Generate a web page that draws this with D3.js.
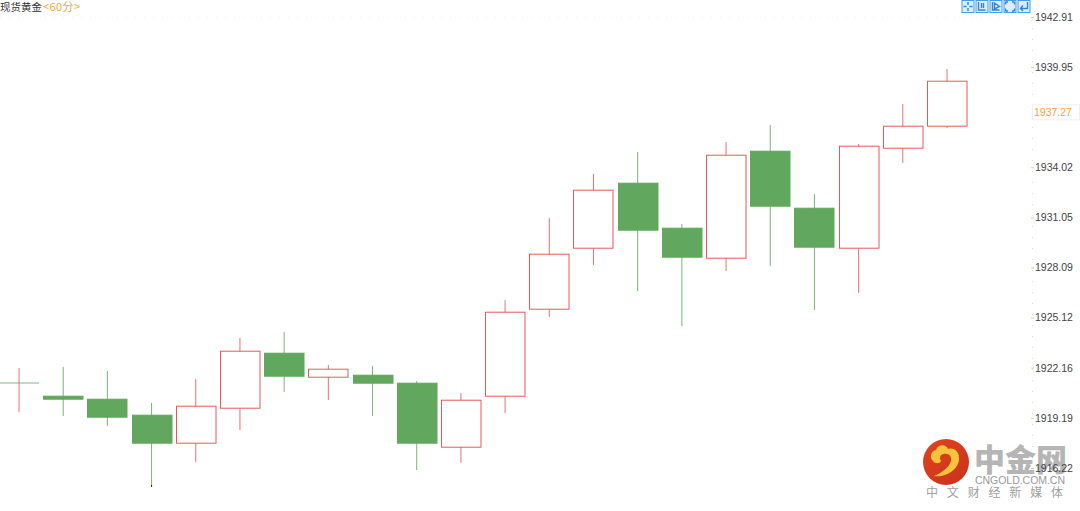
<!DOCTYPE html>
<html><head><meta charset="utf-8">
<style>html,body{margin:0;padding:0;background:#fff;overflow:hidden}svg{display:block}</style>
<script src="https://cdn.jsdelivr.net/npm/d3@7/dist/d3.min.js"></script></head>
<body><svg id="c" width="1080" height="511"></svg>
<script>
const titleName="现货黄金", titlePeriod="<60分>";
const tickValues=[1942.91,1939.95,1934.02,1931.05,1928.09,1925.12,1922.16,1919.19,1916.22];
const lastPrice=1937.27;
const openV =[1921.25,1920.48,1920.30,1919.36,1917.70,1919.77,1923.03,1921.61,1921.72,1921.25,1917.46,1920.48,1925.63,1929.24,1933.09,1930.42,1928.65,1934.98,1931.61,1929.24,1935.16,1936.46];
const closeV=[1921.25,1920.30,1919.24,1917.70,1919.89,1923.14,1921.66,1922.08,1921.25,1917.70,1920.24,1925.45,1928.88,1932.67,1930.30,1928.71,1934.74,1931.72,1929.30,1935.28,1936.46,1939.12];
const highV =[1922.14,1922.20,1921.96,1920.07,1921.49,1923.91,1924.27,1922.32,1922.26,1921.37,1920.66,1926.16,1931.01,1933.62,1934.92,1930.66,1935.51,1936.52,1932.44,1935.39,1937.76,1939.83];
const lowV  =[1919.53,1919.30,1918.71,1915.10,1916.57,1918.47,1920.72,1920.24,1919.30,1916.10,1916.52,1919.47,1925.16,1928.23,1926.69,1924.62,1927.88,1928.17,1925.57,1926.58,1934.27,1936.34];
const RED="#e5595b", GREEN="#62a75e", AX="#444";
const FF="'Liberation Sans',Arial,'Noto Sans CJK SC',sans-serif";
const svg=d3.select("#c");
const y=d3.scaleLinear().domain([1916.22,1942.91]).range([468,17]);
const x=d3.scalePoint().domain(d3.range(openV.length)).range([19,947]);
const bw=39.5;

// faint dotted guides
svg.append("line").attr("x1",0).attr("x2",1033).attr("y1",17.5).attr("y2",17.5).attr("stroke","#ececec").attr("stroke-dasharray","1 8");
svg.append("line").attr("x1",1032.5).attr("x2",1032.5).attr("y1",17).attr("y2",511).attr("stroke","#dcdcdc").attr("stroke-dasharray","1 10");

// candles
const g=svg.append("g");
const cs=g.selectAll("g").data(openV.map((o,i)=>({i,o,c:closeV[i],h:highV[i],l:lowV[i]}))).join("g");
const col=d=>d.c>=d.o?RED:GREEN;
cs.append("line").attr("x1",d=>x(d.i)).attr("x2",d=>x(d.i))
  .attr("y1",d=>y(d.h)).attr("y2",d=>y(d.l)).attr("stroke",col).attr("stroke-opacity",.85);
cs.filter(d=>d.i>0).append("rect")
  .attr("x",d=>Math.round(x(d.i))-19.5).attr("width",bw)
  .attr("y",d=>Math.round(y(Math.max(d.o,d.c)))+.2)
  .attr("height",d=>Math.max(2,Math.round(Math.abs(y(d.o)-y(d.c)))))
  .attr("fill",d=>d.c>=d.o?"#fff":GREEN).attr("stroke",col);
cs.filter(d=>d.i===0).append("line").attr("x1",d=>x(d.i)-19).attr("x2",d=>x(d.i)+20)
  .attr("y1",d=>y(d.c)).attr("y2",d=>y(d.c)).attr("stroke",GREEN).attr("stroke-opacity",.8);
// dark tip of the longest wick
g.append("line").attr("x1",x(3)).attr("x2",x(3)).attr("y1",y(lowV[3])-2).attr("y2",y(lowV[3])).attr("stroke","#222");

// watermark logo (below axis labels)
const logo=svg.append("g");
const defs=svg.append("defs");
const gr=defs.append("linearGradient").attr("id","lg").attr("x1",0).attr("y1",0).attr("x2",1).attr("y2",1);
gr.append("stop").attr("offset",0).attr("stop-color","#e0451f");
gr.append("stop").attr("offset",1).attr("stop-color","#c9301a");
logo.append("circle").attr("cx",946).attr("cy",462).attr("r",23).attr("fill","url(#lg)");
logo.append("path").attr("d","M934 476 C945 478 958 470 959 460 C960 452 954 447 948 449 C946 444 938 444 936 450 C931 451 929 457 933 461 C935 464 940 464 941 461 C939 458 940 454 944 454 C949 453 952 457 951 461 C949 468 941 473 934 476Z").attr("fill","#f6c33a");
logo.append("text").attr("x",974).attr("y",471).attr("font-family","'Noto Sans CJK SC'").attr("font-weight",900).attr("font-size",31).attr("textLength",93).attr("fill","#b5b5b5").text("中金网");
logo.append("text").attr("x",975).attr("y",484).attr("font-family",FF).attr("font-size",10.5).attr("textLength",90).attr("fill","#9a9a9a").text("CNGOLD.COM.CN");
logo.append("text").attr("x",926).attr("y",497).attr("font-family","'Noto Sans CJK SC'").attr("font-size",12).attr("textLength",137).attr("fill","#a0a0a0").text("中文财经新媒体");

// right axis labels
const ax=svg.append("g").attr("transform","translate(1033,0)")
  .call(d3.axisRight(y).tickValues(tickValues).tickSize(1).tickPadding(1).tickFormat(d3.format(".2f")));
ax.select(".domain").remove();
ax.selectAll("line").attr("x1",-2).attr("x2",1).attr("stroke","#ccc");
ax.selectAll("text").attr("font-family",FF).attr("font-size",10.5).attr("fill",AX);

// last price tag
const tag=svg.append("g");
tag.append("rect").attr("x",1032.5).attr("y",y(lastPrice)-7.5).attr("width",47).attr("height",15).attr("fill","#fff").attr("stroke","#f0f0f0");
tag.append("text").attr("x",1034).attr("y",y(lastPrice)+4).attr("font-family",FF).attr("font-size",10.5).attr("fill","#f5a33c").text(lastPrice.toFixed(2));

// title
const t=svg.append("text").attr("x",0).attr("y",11).attr("font-family","'Noto Sans CJK SC'").attr("font-size",10.5);
t.append("tspan").attr("fill","#333").text(titleName);
t.append("tspan").attr("fill","#f5a33c").attr("dx",1).attr("font-size",11).attr("letter-spacing",.4).text(titlePeriod);

// toolbar icons
const iconNames=["cross","bars","play","full","back"];
const ic=svg.append("g").selectAll("g").data(iconNames).join("g")
  .attr("transform",(d,i)=>`translate(${961.5+i*14},0)`);
ic.append("rect").attr("x",.5).attr("y",.5).attr("width",12).attr("height",12).attr("fill","#dcecf9").attr("stroke","#4a9be0");
const glyph={cross:"M6.5 2V5M6.5 8V11M2 6.5H5M8 6.5H11",bars:"M3 2V10H10M6 3V8M8 3V8",play:"M3 2V10H10M5 3L10 6.5L5 9Z",full:"M2 2H4.5M2 2V4.5M11 2H8.5M11 2V4.5M2 11H4.5M2 11V8.5M11 11H8.5M11 11V8.5",back:"M10 2V8.5H3M5.5 5.5L3 8.5L5.5 11"};
ic.append("path").attr("d",d=>glyph[d]).attr("fill","none").attr("stroke","#2f86d2").attr("stroke-width",1.4);
</script></body></html>
